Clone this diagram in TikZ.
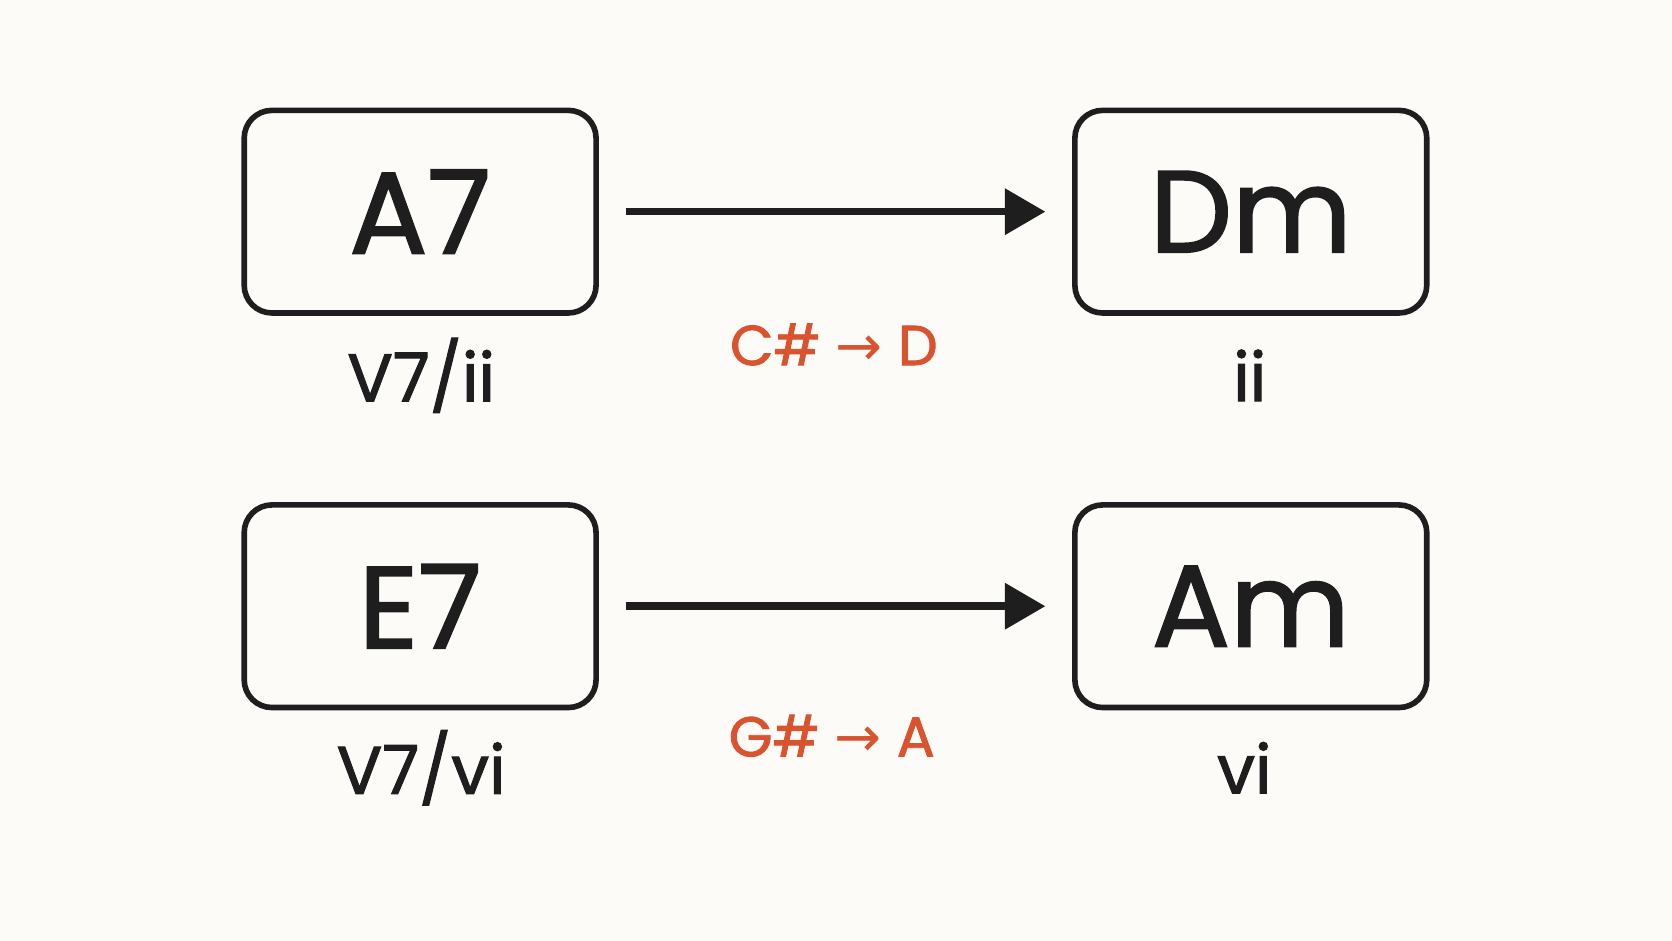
\documentclass[tikz,border=0pt]{standalone}
\usepackage{fontspec}
\setmainfont{Poppins}
\newfontfamily\heavyfont{Poppins}[FakeBold=1.6]
\newfontfamily\symfont{DejaVu Sans}
\usetikzlibrary{arrows.meta,positioning}
\definecolor{ink}{HTML}{1E1E1E}
\definecolor{accent}{HTML}{D9532F}
\definecolor{paper}{HTML}{FCFBF8}
\tikzset{
  chord/.style={draw=ink,line width=1.5pt,rounded corners=0.26cm,minimum width=3.3cm,minimum height=1.9cm,
    text=ink,font=\heavyfont\fontsize{31}{31}\selectfont},
  func/.style={text=ink,font=\heavyfont\fontsize{18}{18}\selectfont},
  tone/.style={text=accent,font=\heavyfont\fontsize{15}{15}\selectfont},
  lead/.style={draw=ink,line width=2pt,-{Triangle[length=0.38cm,width=0.42cm]}}
}
\begin{document}
\begin{tikzpicture}
  \fill[paper] (0,0) rectangle (15.68,-8.82);
  \useasboundingbox (0,0) rectangle (15.68,-8.82);
  % first row
  \node[chord] (A7) at (3.94,-1.985) {A7};
  \node[chord] (Dm) at (11.73,-1.985) {Dm};
  \node[func] (fA7) at (3.95,-3.52) {V7/ii};
  \node[func] (fDm) at (11.72,-3.52) {ii};
  \node[tone] (tA) at (7.82,-3.23) {C\# {\symfont→} D};
  \draw[lead] ([xshift=0.25cm]A7.east) -- ([xshift=-0.25cm]Dm.west);
  % second row
  \node[chord] (E7) at (3.94,-5.685) {E7};
  \node[chord] (Am) at (11.73,-5.685) {Am};
  \node[func] (fE7) at (3.95,-7.2) {V7/vi};
  \node[func] (fAm) at (11.67,-7.2) {vi};
  \node[tone] (tE) at (7.80,-6.9) {G\# {\symfont→} A};
  \draw[lead] ([xshift=0.25cm]E7.east) -- ([xshift=-0.25cm]Am.west);
\end{tikzpicture}
\end{document}
